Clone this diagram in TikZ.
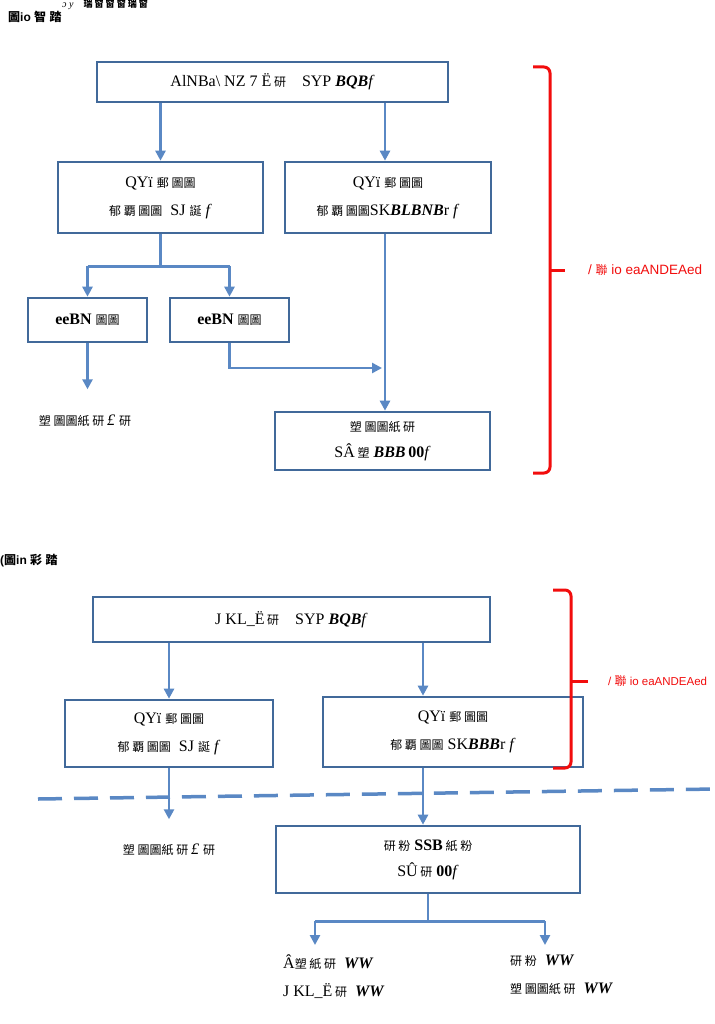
\documentclass[tikz,border=0pt]{standalone}
\usepackage{fontspec}
\setmainfont{Liberation Serif}
\newfontfamily\cjk{Noto Sans CJK SC}
\newfontfamily\lsans{Liberation Sans}
\usetikzlibrary{arrows.meta}
\newcommand\cj[1]{{\cjk\fontsize{12}{14}\selectfont #1}}
\definecolor{boxblue}{HTML}{41699A}
\definecolor{arrblue}{HTML}{5A88C4}
\definecolor{bred}{HTML}{F20D0D}
\tikzset{
  box/.style={draw=boxblue, line width=2.6pt, fill=white, minimum width=#1, align=center, inner sep=0pt, font=\fontsize{16}{28}\selectfont},
  arr/.style={draw=arrblue, line width=2.6pt, -{Triangle[length=10pt,width=10pt]}},
  ln/.style={draw=arrblue, line width=2.6pt},
  brace/.style={draw=bred, line width=3pt, rounded corners=6pt},
  rlabel/.style={text=bred, anchor=west, font=\lsans\fontsize{13.5}{15}\selectfont, inner sep=0pt},
  plain/.style={font=\fontsize{16}{28}\selectfont, align=left, inner sep=0pt},
  sec/.style={anchor=west, font=\lsans\bfseries\fontsize{12}{14}\selectfont, inner sep=0pt},
  dashline/.style={draw=arrblue, line width=3.5pt, dash pattern=on 24pt off 12pt}
}
\begin{document}
\begin{tikzpicture}[x=1pt,y=-1pt]
\useasboundingbox (0,0) rectangle (714,1024);
\fill[white] (0,0) rectangle (714,1024);

% top heading
\node[anchor=west, inner sep=0pt] (head) at (62,5) {\fontsize{10}{12}\selectfont\textit{ɔ y}\quad{\cjk\bfseries\fontsize{9}{10}\selectfont 瑞 窗 窗 窗 瑞 窗}};

% ---------- section 1 ----------
\node[sec] (s1) at (8,17) {\cj{圖}io \cj{智} \cj{踏}};

\node[box=351pt, minimum height=40pt] (A) at (272.5,82) {AlNBa\textbackslash{} NZ 7 \"E\,\cj{研}\quad SYP \textbf{\textit{BQB}}\textit{f}};
\node[box=205pt, minimum height=71pt] (B1) at (160.5,197.5) {QY\"{\i}\ \cj{郵 圖圖}\\\cj{郁 覇 圖圖}\ \ SJ\ \cj{誕}\ \textit{f}};
\node[box=206pt, minimum height=71pt] (B2) at (388,197.5) {QY\"{\i}\ \cj{郵 圖圖}\\\cj{郁 覇 圖圖}SK\textbf{\textit{BLBNB}}r\ \textit{f}};
\node[box=119pt, minimum height=44pt] (C1) at (87.5,320) {\textbf{eeBN} \cj{圖圖}};
\node[box=119pt, minimum height=44pt] (C2) at (229.5,320) {\textbf{eeBN} \cj{圖圖}};
\node[box=215pt, minimum height=58pt, font=\fontsize{16}{26}\selectfont] (D) at (382.5,441) {\cj{塑 圖圖紙 研}\\S\^A\,\cj{塑}\ \textbf{\textit{BBB}}\,\textbf{00}\textit{f}};
\node[plain] (T1) at (85,421) {\cj{塑 圖圖紙 研}\,\textit{£}\ \cj{研}};

\coordinate (m1) at (385,368);
\draw[arr] (A.south -| B1.north) -- (B1.north);
\draw[arr] (A.south -| m1) -- (m1 |- B2.north);
\draw[ln] (B1.south) -- ++(0,32) coordinate (j1);
\draw[ln] (C1.north |- j1) -- (C2.north |- j1);
\draw[arr] (C1.north |- j1) -- (C1.north);
\draw[arr] (C2.north |- j1) -- (C2.north);
\draw[arr] (C1.south) -- ++(0,46);
\draw[arr] (C2.south) |- ([xshift=-3pt]m1);
\draw[arr] (m1 |- B2.south) -- (m1 |- D.north);

\coordinate (br1t) at (533,67);
\coordinate (br1m) at (550,270);
\coordinate (br1b) at (533,473);
\draw[brace] (br1t) -| (br1m) |- (br1b);
\draw[draw=bred, line width=3pt] (br1m) -- ++(15,0) coordinate (br1tip);
\node[rlabel] (L1) at (588,270) {/ \cj{聯} io eaANDEAed};

% ---------- section 2 ----------
\node[sec] (s2) at (0,561) {(\cj{圖}in \cj{彩} \cj{踏}};

\node[box=397pt, minimum height=45pt] (E) at (291.5,619.5) {J KL\_\"E\,\cj{研}\quad SYP \textbf{\textit{BQB}}\textit{f}};
\node[box=208pt, minimum height=67pt] (F1) at (169,733.5) {QY\"{\i}\ \cj{郵 圖圖}\\\cj{郁 覇 圖圖}\ \ SJ\ \cj{誕}\ \textit{f}};
\node[box=260pt, minimum height=70pt] (F2) at (453,732) {QY\"{\i}\ \cj{郵 圖圖}\\\cj{郁 覇 圖圖}\ SK\textbf{\textit{BBB}}r\ \textit{f}};
\node[box=304pt, minimum height=67pt, font=\fontsize{16}{26}\selectfont] (G) at (428,859.5) {\cj{研 粉}\ \textbf{SSB}\,\cj{紙 粉}\\S\^U\,\cj{研}\ \textbf{00}\textit{f}};
\node[plain] (T2) at (169,850) {\cj{塑 圖圖紙 研}\,\textit{£}\ \cj{研}};

\coordinate (c2) at (423,0);
\draw[arr] (E.south -| F1.north) -- (F1.north);
\draw[arr] (E.south -| c2) -- (c2 |- F2.north);
\draw[arr] (c2 |- F2.south) -- (c2 |- G.north);
\draw[arr] (F1.south) -- ++(0,51);

\draw[dashline] (38,799) -- (716,789);

\node[plain, anchor=north west] (BL) at (283,955) {\^A\cj{塑 紙 研}\ \ \textbf{\textit{WW}}\\J KL\_\"E\,\cj{研}\ \ \textbf{\textit{WW}}};
\node[plain, anchor=north west] (BR) at (510,955) {\cj{研 粉}\ \ \textbf{\textit{WW}}\\\cj{塑 圖圖紙 研}\ \ \textbf{\textit{WW}}};
\coordinate (bl) at (315,945);
\coordinate (bra) at (545,945);
\draw[ln] (G.south) -- ++(0,27) coordinate (j2);
\draw[ln] (bl |- j2) -- (bra |- j2);
\draw[arr] (bl |- j2) -- (bl);
\draw[arr] (bra |- j2) -- (bra);

\coordinate (br2t) at (553,590);
\coordinate (br2m) at (571,681);
\coordinate (br2b) at (553,768);
\draw[brace] (br2t) -| (br2m) |- (br2b);
\draw[draw=bred, line width=3pt] (br2m) -- ++(17,0) coordinate (br2tip);
\node[rlabel, font=\lsans\fontsize{11.5}{13}\selectfont] (L2) at (608,681) {/ \cj{聯} io eaANDEAed};
\end{tikzpicture}
\end{document}
